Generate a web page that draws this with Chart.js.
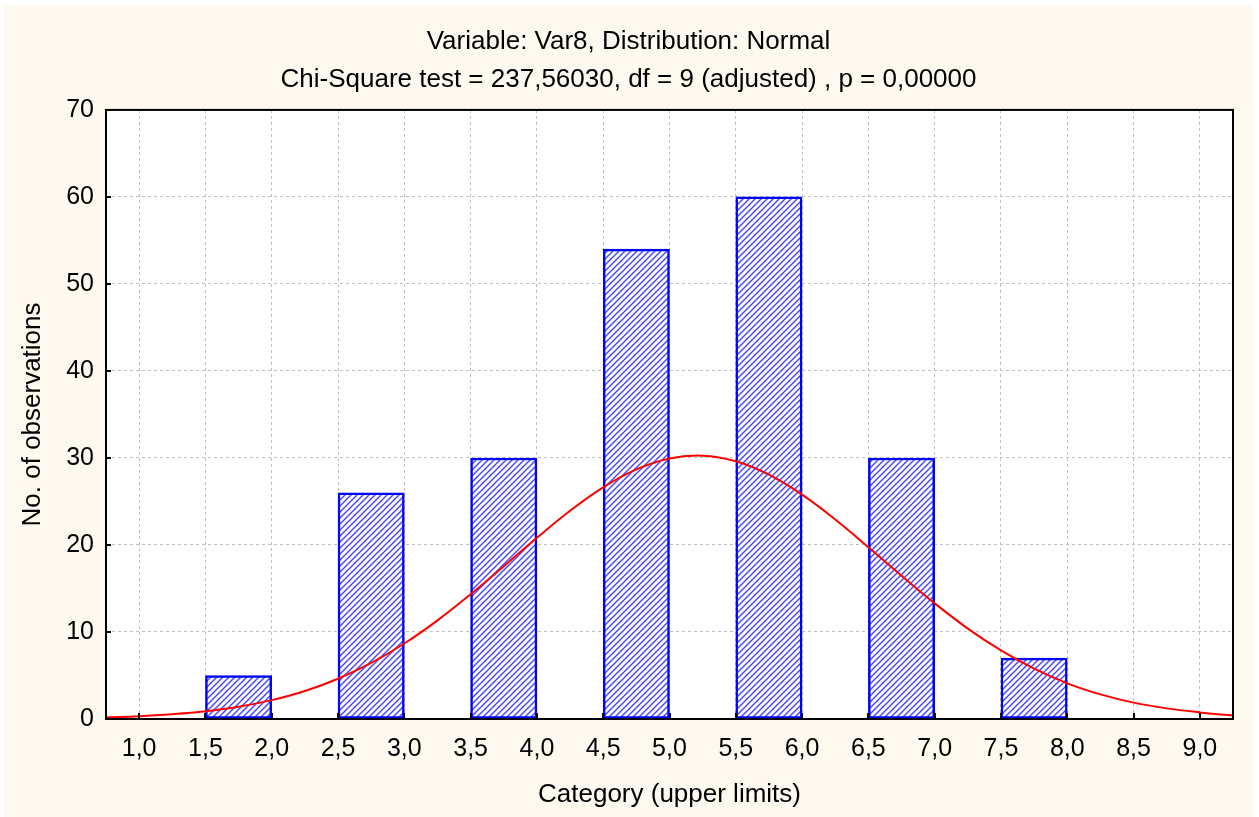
<!DOCTYPE html>
<html>
<head>
<meta charset="utf-8">
<script src="https://cdn.jsdelivr.net/npm/chart.js@4.4.1/dist/chart.umd.min.js"></script>
<style>
  html, body { margin: 0; padding: 0; background: #ffffff; }
  #wrap { width: 1259px; height: 817px; }
</style>
</head>
<body>
<div id="wrap"><canvas id="c" width="1259" height="817"></canvas></div>
<script>
// ---- data ----
const titleLines = ['Variable: Var8, Distribution: Normal', 'Chi-Square test = 237,56030, df = 9 (adjusted) , p = 0,00000'];
const xAxisTitle = 'Category (upper limits)';
const yAxisTitle = 'No. of observations';

// bar bins (centre of each bin) and counts
const binCenters = [1.75, 2.75, 3.75, 4.75, 5.75, 6.75, 7.75];
const binCounts  = [5, 26, 30, 54, 60, 30, 7];

// expected normal curve
const curveX = [0.75, 1.0, 1.25, 1.5, 1.75, 2.0, 2.25, 2.5, 2.75, 3.0, 3.25, 3.5, 3.75, 4.0, 4.25, 4.5, 4.75, 5.0, 5.25, 5.5, 5.75, 6.0, 6.25, 6.5, 6.75, 7.0, 7.25, 7.5, 7.75, 8.0, 8.25, 8.5, 8.75, 9.0, 9.25];
const curveY = [0.19, 0.32, 0.55, 0.89, 1.41, 2.17, 3.22, 4.63, 6.44, 8.68, 11.34, 14.33, 17.55, 20.82, 23.93, 26.62, 28.68, 29.94, 30.26, 29.62, 28.08, 25.78, 22.92, 19.74, 16.46, 13.29, 10.39, 7.88, 5.78, 4.10, 2.83, 1.88, 1.22, 0.76, 0.40];

// tick labels
const xTickValues = [1.0, 1.5, 2.0, 2.5, 3.0, 3.5, 4.0, 4.5, 5.0, 5.5, 6.0, 6.5, 7.0, 7.5, 8.0, 8.5, 9.0];
const xTickLabels = ['1,0','1,5','2,0','2,5','3,0','3,5','4,0','4,5','5,0','5,5','6,0','6,5','7,0','7,5','8,0','8,5','9,0'];
const yTickValues = [0, 10, 20, 30, 40, 50, 60, 70];
const yTickLabels = ['0','10','20','30','40','50','60','70'];

// ---- styling ----
const FONT = 'Arial, "Liberation Sans", sans-serif';
const ctx0 = document.getElementById('c').getContext('2d');

function makeHatch() {
  const s = 6;
  const p = document.createElement('canvas');
  p.width = s; p.height = s;
  const g = p.getContext('2d');
  g.fillStyle = '#ffffff';
  g.fillRect(0, 0, s, s);
  g.strokeStyle = '#4a4aff';
  g.lineWidth = 1.5;
  g.beginPath();
  g.moveTo(-1, s + 1); g.lineTo(s + 1, -1);
  g.moveTo(-1 - s, s + 1); g.lineTo(1, -1);
  g.moveTo(s - 1, s + 1); g.lineTo(2 * s + 1, -1);
  g.stroke();
  return ctx0.createPattern(p, 'repeat');
}

const bgPlugin = {
  id: 'bg',
  beforeDraw(chart) {
    const c = chart.ctx;
    c.save();
    c.fillStyle = '#ffffff';
    c.fillRect(0, 0, chart.width, chart.height);
    c.fillStyle = '#fef9ef';
    c.fillRect(4, 5, 1249, 812);
    const a = chart.chartArea;
    c.fillStyle = '#ffffff';
    c.fillRect(a.left, a.top, a.right - a.left, a.bottom - a.top);
    c.restore();
  },
  afterDatasetsDraw(chart) {
    const c = chart.ctx;
    const a = chart.chartArea;
    const xs = chart.scales.x, ys = chart.scales.y;
    c.save();
    c.strokeStyle = '#000000';
    c.lineWidth = 2;
    c.beginPath();
    xTickValues.forEach(v => {
      const px = Math.round(xs.getPixelForValue(v));
      c.moveTo(px, a.bottom); c.lineTo(px, a.bottom - 6);
    });
    yTickValues.forEach(v => {
      const py = Math.round(ys.getPixelForValue(v));
      c.moveTo(a.left, py); c.lineTo(a.left + 5, py);
    });
    c.stroke();
    c.strokeRect(a.left, a.top, a.right - a.left, a.bottom - a.top);
    c.restore();
  }
};

new Chart(ctx0, {
  data: {
    datasets: [
      {
        type: 'line',
        data: curveX.map((x, i) => ({ x: x, y: curveY[i] })),
        borderColor: '#ff0000',
        borderWidth: 2,
        pointRadius: 0,
        fill: false,
        tension: 0.4,
        order: 0
      },
      {
        type: 'bar',
        data: binCenters.map((x, i) => ({ x: x, y: binCounts[i] })),
        backgroundColor: makeHatch(),
        borderColor: '#0000ff',
        borderWidth: 2.5,
        borderSkipped: false,
        barPercentage: 1,
        categoryPercentage: 1,
        order: 1
      }
    ]
  },
  options: {
    responsive: false,
    animation: false,
    layout: { padding: { left: 24, right: 26, top: 5, bottom: 5 } },
    plugins: {
      legend: { display: false },
      tooltip: { enabled: false },
      title: {
        display: true,
        text: titleLines,
        color: '#000000',
        font: { family: FONT, size: 26, weight: 'normal', lineHeight: 1.46 },
        padding: { top: 18, bottom: 11 }
      }
    },
    scales: {
      x: {
        type: 'linear',
        min: 0.75,
        max: 9.25,
        offset: false,
        afterBuildTicks(scale) {
          scale.ticks = xTickValues.map(v => ({ value: v }));
        },
        afterFit(scale) { scale.height = 93; },
        ticks: {
          autoSkip: false,
          maxRotation: 0,
          padding: 15,
          color: '#000000',
          font: { family: FONT, size: 25 },
          callback(v) {
            const i = xTickValues.findIndex(t => Math.abs(t - v) < 1e-6);
            return i >= 0 ? xTickLabels[i] : '';
          }
        },
        grid: { drawTicks: false, offset: false, color: '#c0c0c0', lineWidth: 1 },
        border: { display: false, dash: [3, 3] },
        title: {
          display: true,
          text: xAxisTitle,
          color: '#000000',
          font: { family: FONT, size: 26 },
          padding: { top: 4, bottom: 2 }
        }
      },
      y: {
        type: 'linear',
        min: 0,
        max: 70,
        afterBuildTicks(scale) {
          scale.ticks = yTickValues.map(v => ({ value: v }));
        },
        afterFit(scale) { scale.width = 82; },
        ticks: {
          padding: 12,
          color: '#000000',
          font: { family: FONT, size: 25 },
          callback(v) {
            const i = yTickValues.indexOf(v);
            return i >= 0 ? yTickLabels[i] : '';
          }
        },
        grid: { drawTicks: false, color: '#c0c0c0', lineWidth: 1 },
        border: { display: false, dash: [3, 3] },
        title: {
          display: true,
          text: yAxisTitle,
          color: '#000000',
          font: { family: FONT, size: 26 },
          padding: { top: -6.5, bottom: 0 }
        }
      }
    }
  },
  plugins: [bgPlugin]
});
</script>
</body>
</html>
